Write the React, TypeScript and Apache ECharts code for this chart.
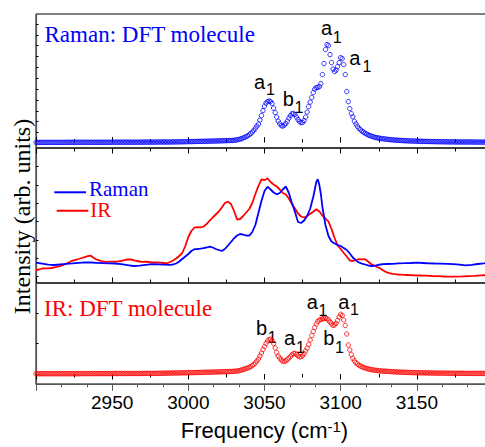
import React, { useEffect, useRef } from "react";
import * as echarts from "echarts";

// Frequency axis (cm-1)
const X_MIN = 2900;
const X_MAX = 3200;
const X_TICK_LABELS = [2950, 3000, 3050, 3100, 3150];

// DFT spectra: one value per cm-1, starting at 2900 cm-1
const DFT_START = 2900;

// Raman: DFT molecule (top panel), 2900..3029
const ramanDftLeftTail = [
  0.2, 0.2, 0.2, 0.2, 0.2, 0.2, 0.2, 0.2, 0.2, 0.2,
  0.2, 0.2, 0.2, 0.2, 0.2, 0.2, 0.2, 0.2, 0.2, 0.2,
  0.3, 0.3, 0.3, 0.3, 0.3, 0.3, 0.3, 0.3, 0.3, 0.3,
  0.3, 0.3, 0.3, 0.3, 0.3, 0.3, 0.3, 0.3, 0.3, 0.3,
  0.3, 0.3, 0.3, 0.3, 0.3, 0.3, 0.3, 0.3, 0.3, 0.3,
  0.4, 0.4, 0.4, 0.4, 0.4, 0.4, 0.4, 0.4, 0.4, 0.4,
  0.4, 0.4, 0.4, 0.4, 0.4, 0.4, 0.4, 0.4, 0.4, 0.4,
  0.5, 0.5, 0.5, 0.5, 0.5, 0.5, 0.5, 0.5, 0.5, 0.5,
  0.6, 0.6, 0.6, 0.6, 0.6, 0.6, 0.6, 0.6, 0.6, 0.6,
  0.7, 0.7, 0.7, 0.8, 0.8, 0.8, 0.8, 0.9, 0.9, 0.9,
  1.0, 1.0, 1.0, 1.1, 1.1, 1.1, 1.2, 1.2, 1.2, 1.3,
  1.3, 1.3, 1.4, 1.4, 1.5, 1.5, 1.5, 1.6, 1.6, 1.7,
  1.7, 1.8, 1.8, 1.9, 1.9, 2.0, 2.0, 2.1, 2.1, 2.2,
];
// 3030..3125
const ramanDftPeaks = [
  2.3, 2.5, 2.8, 3.1, 3.5, 4.0, 4.6, 5.3, 6.0, 6.9,
  7.8, 9.0, 10.5, 12.3, 14.2, 16.5, 18.5, 22.5, 27, 32,
  36.5, 39.5, 41, 41.5, 41, 39, 34.5, 30, 25.5, 21.5,
  19, 17, 16.5, 17.5, 19, 21.5, 24.5, 27, 28.8, 29.2,
  28, 25.5, 23, 21, 20, 20.2, 22, 25.5, 30.5, 36,
  40.5, 45, 50, 53.5, 55, 55.3, 56, 59, 68, 79,
  93, 98, 97, 88, 80, 73.5, 71, 72.5, 76, 80,
  85, 84, 78, 68, 51, 41, 34, 29, 25.8, 21.3,
  18.7, 16.2, 14.3, 12.8, 11.5, 10.4, 9.4, 8.6, 7.8, 7.1,
  6.5, 6.0, 5.5, 5.1, 4.8, 4.5,
];
// 3126..3200
const ramanDftRightTail = [
  4.2, 4.0, 3.8, 3.6, 3.4, 3.2, 3.0, 2.9, 2.8, 2.6,
  2.5, 2.4, 2.3, 2.2, 2.1, 2.0, 1.9, 1.8, 1.8, 1.7,
  1.6, 1.6, 1.5, 1.5, 1.4, 1.4, 1.3, 1.3, 1.2, 1.2,
  1.2, 1.1, 1.1, 1.1, 1.0, 1.0, 1.0, 0.9, 0.9, 0.9,
  0.9, 0.8, 0.8, 0.8, 0.8, 0.7, 0.7, 0.7, 0.7, 0.7,
  0.6, 0.6, 0.6, 0.6, 0.6, 0.6, 0.6, 0.6, 0.6, 0.6,
  0.6, 0.6, 0.5, 0.5, 0.5, 0.5, 0.5, 0.5, 0.5, 0.5,
  0.5, 0.5, 0.4, 0.4, 0.4,
];

// IR: DFT molecule (bottom panel), 2900..3029
const irDftLeftTail = [
  0.3, 0.3, 0.3, 0.3, 0.3, 0.3, 0.3, 0.3, 0.3, 0.3,
  0.3, 0.3, 0.3, 0.3, 0.3, 0.3, 0.3, 0.3, 0.3, 0.3,
  0.3, 0.3, 0.3, 0.3, 0.3, 0.3, 0.3, 0.3, 0.3, 0.3,
  0.4, 0.4, 0.4, 0.4, 0.4, 0.4, 0.4, 0.4, 0.4, 0.4,
  0.4, 0.4, 0.4, 0.4, 0.4, 0.4, 0.4, 0.4, 0.4, 0.4,
  0.5, 0.5, 0.5, 0.5, 0.5, 0.5, 0.5, 0.5, 0.5, 0.5,
  0.5, 0.5, 0.5, 0.5, 0.5, 0.5, 0.5, 0.5, 0.5, 0.5,
  0.6, 0.6, 0.6, 0.6, 0.6, 0.6, 0.6, 0.6, 0.6, 0.6,
  0.7, 0.7, 0.7, 0.8, 0.8, 0.8, 0.8, 0.9, 0.9, 0.9,
  1.0, 1.0, 1.0, 1.1, 1.1, 1.1, 1.2, 1.2, 1.2, 1.3,
  1.3, 1.3, 1.4, 1.4, 1.4, 1.5, 1.5, 1.5, 1.6, 1.6,
  1.7, 1.7, 1.7, 1.8, 1.8, 1.9, 1.9, 2.0, 2.0, 2.1,
  2.1, 2.2, 2.2, 2.3, 2.3, 2.4, 2.4, 2.5, 2.5, 2.6,
];
// 3030..3125
const irDftPeaks = [
  2.7, 2.8, 3.0, 3.3, 3.6, 4.0, 4.5, 5.0, 5.5, 6.0,
  6.7, 7.5, 8.4, 9.5, 11, 13, 15, 18, 21, 24.5,
  27.5, 30.5, 33, 34.5, 34.7, 33.5, 30.5, 26, 21.5, 18,
  16, 14, 12.8, 12.5, 13.3, 14.5, 16, 17.5, 19.2, 20.5,
  20.5, 19.7, 18, 17.2, 17.3, 18.3, 20.5, 23, 26, 29.5,
  34, 38.5, 42.5, 46.5, 50, 52.5, 54, 54.5, 55, 55.5,
  55.7, 55.3, 54, 52, 50, 48.7, 49.2, 50.7, 53.5, 57,
  59.7, 58.5, 54, 48.5, 40, 29, 24, 19.5, 15.7, 13.2,
  11.3, 10, 8.8, 7.9, 7.2, 6.6, 6.0, 5.5, 5.1, 4.7,
  4.4, 4.1, 3.9, 3.7, 3.5, 3.3,
];
// 3126..3200
const irDftRightTail = [
  3.1, 3.0, 2.9, 2.8, 2.7, 2.6, 2.5, 2.4, 2.3, 2.2,
  2.1, 2.0, 1.9, 1.9, 1.8, 1.7, 1.7, 1.6, 1.6, 1.5,
  1.5, 1.4, 1.4, 1.3, 1.3, 1.3, 1.2, 1.2, 1.2, 1.1,
  1.1, 1.1, 1.0, 1.0, 1.0, 1.0, 0.9, 0.9, 0.9, 0.9,
  0.9, 0.8, 0.8, 0.8, 0.8, 0.8, 0.7, 0.7, 0.7, 0.7,
  0.7, 0.7, 0.7, 0.7, 0.7, 0.6, 0.6, 0.6, 0.6, 0.6,
  0.6, 0.6, 0.6, 0.6, 0.6, 0.6, 0.6, 0.6, 0.6, 0.6,
  0.5, 0.5, 0.5, 0.5, 0.5,
];

// Experimental spectra (middle panel): [wavenumber, intensity]
const ramanExp = [
  [2900, 20.3], [2904, 19.3], [2908, 18.3], [2912, 18.0], [2916, 18.6], [2920, 19.2],
  [2924, 19.6], [2928, 20.2], [2932, 20.7], [2936, 20.5], [2940, 20.2], [2944, 19.9],
  [2948, 19.7], [2952, 19.5], [2956, 18.8], [2960, 17.8], [2964, 17.0], [2968, 17.4],
  [2972, 18.2], [2976, 18.8], [2980, 18.7], [2984, 18.4], [2988, 18.2], [2990, 18.5],
  [2992, 19.5], [2994, 21.5], [2996, 24], [2998, 26.5], [3000, 29], [3002, 32],
  [3004, 33.8], [3006, 34], [3008, 34.3], [3010, 34.8], [3012, 35.5], [3014, 36.3],
  [3016, 35.5], [3018, 34], [3020, 33], [3022, 32], [3024, 34], [3026, 37.5],
  [3028, 41], [3030, 44.7], [3032, 47.5], [3034, 49], [3036, 48.3], [3038, 47.5],
  [3040, 47.3], [3042, 51], [3044, 58], [3046, 70], [3048, 82], [3050, 92],
  [3052, 96.3], [3054, 93.5], [3056, 90.5], [3058, 88.7], [3060, 90], [3062, 93.5],
  [3064, 96.5], [3066, 90], [3068, 80], [3070, 71], [3072, 61], [3074, 60],
  [3076, 62.5], [3078, 67], [3080, 74.5], [3082, 86], [3084, 101], [3085, 103.7],
  [3086, 98], [3087, 89], [3088, 76], [3090, 58], [3092, 47], [3094, 41.5],
  [3096, 39.5], [3098, 38], [3100, 37], [3102, 35], [3104, 33], [3106, 29.5],
  [3108, 25.5], [3110, 22.5], [3112, 20.5], [3114, 19.3], [3116, 18.5], [3118, 17.6],
  [3120, 17.0], [3122, 17.1], [3124, 17.8], [3126, 18.5], [3128, 18.8], [3130, 19.0],
  [3134, 19.2], [3138, 19.6], [3142, 19.8], [3146, 20.0], [3150, 20.3], [3154, 20.0],
  [3158, 19.7], [3162, 19.5], [3166, 19.4], [3170, 19.1], [3174, 18.8], [3178, 18.4],
  [3182, 17.7], [3186, 18.2], [3190, 19.0], [3194, 19.7], [3198, 20.5], [3200, 21.5],
];
const irExp = [
  [2900, 13], [2902, 13.5], [2904, 14.5], [2906, 14.7], [2908, 14.7], [2910, 15.0],
  [2912, 15.5], [2914, 16.3], [2916, 17], [2918, 18.2], [2920, 19.5], [2922, 21],
  [2924, 22.3], [2926, 23.2], [2928, 24], [2930, 25], [2932, 25.8], [2934, 26.8],
  [2936, 27.3], [2938, 25], [2940, 23.3], [2942, 22.3], [2944, 21.5], [2946, 21.2],
  [2948, 21.3], [2950, 21.3], [2952, 21.3], [2954, 21.6], [2956, 22], [2958, 22.8],
  [2960, 23.5], [2962, 23.5], [2964, 22.8], [2966, 22], [2968, 21.5], [2970, 21.2],
  [2972, 21.3], [2974, 21], [2976, 20.7], [2978, 20.5], [2980, 20.5], [2982, 20.3],
  [2984, 20], [2986, 19.7], [2988, 21], [2990, 22.5], [2992, 24.5], [2994, 27],
  [2996, 30], [2998, 37], [3000, 46], [3002, 52], [3004, 55.3], [3006, 55.8],
  [3008, 55.7], [3010, 56.5], [3012, 59], [3014, 62.3], [3016, 65.5], [3018, 68.5],
  [3020, 71.5], [3022, 75.5], [3024, 80], [3026, 81.3], [3028, 79], [3030, 72],
  [3032, 63.5], [3034, 64], [3036, 67], [3038, 70.5], [3040, 74], [3042, 80],
  [3044, 89], [3046, 97], [3048, 103.7], [3050, 103], [3051, 103.5], [3052, 104.7],
  [3054, 101], [3056, 98.5], [3058, 96.5], [3060, 93.5], [3062, 90], [3064, 88.5],
  [3066, 84.5], [3068, 79], [3070, 74.5], [3072, 69.5], [3074, 66.5], [3076, 65.5],
  [3078, 67], [3080, 69.3], [3082, 71.3], [3084, 73.7], [3086, 71.5], [3088, 67.5],
  [3090, 64.5], [3092, 61.3], [3094, 54], [3096, 45], [3098, 37.5], [3100, 34],
  [3102, 30], [3104, 26.5], [3106, 22.5], [3108, 22], [3110, 23], [3112, 23.8],
  [3114, 23.7], [3116, 23.8], [3118, 21.5], [3120, 19], [3122, 17.5], [3124, 16],
  [3126, 14.5], [3128, 12.5], [3130, 10.8], [3132, 9.8], [3134, 9.2], [3136, 8.8],
  [3138, 8.5], [3140, 8.3], [3144, 8.0], [3148, 7.7], [3152, 7.5], [3156, 7.3],
  [3160, 7.0], [3164, 6.8], [3168, 6.5], [3172, 6.3], [3176, 6.4], [3180, 6.6],
  [3184, 6.9], [3188, 7.2], [3192, 7.6], [3196, 7.8], [3200, 8.0],
];

// Y tick positions (no labels) of each panel
const topYTicks = [9.9, 20.9, 31.6, 42.6, 53.6, 64.3, 75.3, 85.9, 96.9, 107.6, 118.6];
const midYTicks = [6.3, 24.7, 43, 61.3, 79.7, 98, 116.3];
const botYTicks = [30.7, 60.7];

const SANS = "Liberation Sans";
const SERIF = "Liberation Serif";

function toPairs(values: number[]) {
  return values.map((v, i) => [DFT_START + i, v]);
}

export default function App() {
  const ref = useRef<HTMLDivElement>(null);

  useEffect(() => {
    const chart = echarts.init(ref.current!, null, { renderer: "svg" });

    const ramanDft = toPairs([...ramanDftLeftTail, ...ramanDftPeaks, ...ramanDftRightTail]);
    const irDft = toPairs([...irDftLeftTail, ...irDftPeaks, ...irDftRightTail]);

    const L = 36;
    const W = 457;
    const gridBase = { left: L, width: W, show: true, borderColor: "#000", borderWidth: 1, backgroundColor: "transparent" };

    const innerX = (gridIndex: number, position: string) => ({
      type: "value",
      gridIndex,
      position,
      min: X_MIN,
      max: X_MAX,
      interval: 50,
      axisLine: { show: false },
      axisLabel: { show: false },
      splitLine: { show: false },
      axisTick: { show: true, inside: true, length: 5.5, lineStyle: { color: "#000", width: 1 } },
      minorTick: { show: true, splitNumber: 2, length: 3.5, lineStyle: { color: "#000", width: 1 } },
    });

    const yAx = (gridIndex: number, min: number, max: number, ticks: number[]) => ({
      type: "value",
      gridIndex,
      min,
      max,
      axisLine: { show: true, lineStyle: { color: "#555", width: 1.2 } },
      axisLabel: { show: false },
      splitLine: { show: false },
      axisTick: { show: true, inside: true, length: 2.5, customValues: ticks, lineStyle: { color: "#000" } },
    });

    // Text placed by its centre line (y) and left edge (x)
    const txt = (text: string, x: number, y: number, size: number, family: string, fill: string, rotation = 0, align = "left") => ({
      type: "text",
      x,
      y,
      rotation,
      silent: true,
      style: { text, fontSize: size, fontFamily: family, fill, align, verticalAlign: "middle" },
    });

    const label = (ch: string, x: number, yb: number, subX: number, subYb: number) => [
      txt(ch, x, yb - 6.8, 20, SANS, "#000"),
      txt("1", subX, subYb - 5.5, 16, SANS, "#000"),
    ];

    const option: any = {
      animation: false,
      backgroundColor: "#fff",
      grid: [
        { ...gridBase, top: 14, height: 134 },
        { ...gridBase, top: 148, height: 135 },
        { ...gridBase, top: 283, height: 101 },
      ],
      xAxis: [
        innerX(0, "bottom"),
        innerX(1, "bottom"),
        innerX(1, "top"),
        innerX(2, "top"),
        {
          type: "value",
          gridIndex: 2,
          position: "bottom",
          min: X_MIN,
          max: X_MAX,
          interval: 50,
          axisLine: { show: true, lineStyle: { color: "#555", width: 1.2 } },
          splitLine: { show: false },
          axisTick: { show: true, inside: false, length: 6.7, lineStyle: { color: "#555", width: 1 } },
          minorTick: { show: true, splitNumber: 3, length: 3.3, lineStyle: { color: "#555", width: 1 } },
          axisLabel: {
            show: true,
            margin: 9,
            fontSize: 19,
            fontFamily: SANS,
            color: "#000",
            showMinLabel: false,
            showMaxLabel: false,
            formatter: (v: number) => (X_TICK_LABELS.includes(v) ? String(v) : ""),
          },
        },
      ],
      yAxis: [
        yAx(0, -5.4, 128.6, topYTicks),
        yAx(1, 0, 135, midYTicks),
        yAx(2, -10, 91, botYTicks),
      ],
      series: [
        {
          name: "Raman: DFT molecule",
          type: "scatter",
          xAxisIndex: 0,
          yAxisIndex: 0,
          symbol: "circle",
          symbolSize: 4.4,
          silent: true,
          itemStyle: { color: "rgba(0,0,0,0)", borderColor: "#0000ff", borderWidth: 1 },
          data: ramanDft,
        },
        {
          name: "IR",
          type: "line",
          xAxisIndex: 1,
          yAxisIndex: 1,
          showSymbol: false,
          silent: true,
          lineStyle: { color: "#ff0000", width: 1.8 },
          itemStyle: { color: "#ff0000" },
          data: irExp,
        },
        {
          name: "Raman",
          type: "line",
          xAxisIndex: 1,
          yAxisIndex: 1,
          showSymbol: false,
          silent: true,
          lineStyle: { color: "#0000ff", width: 1.8 },
          itemStyle: { color: "#0000ff" },
          data: ramanExp,
        },
        {
          name: "IR: DFT molecule",
          type: "scatter",
          xAxisIndex: 4,
          yAxisIndex: 2,
          symbol: "circle",
          symbolSize: 4.4,
          silent: true,
          itemStyle: { color: "rgba(0,0,0,0)", borderColor: "#ff0000", borderWidth: 1 },
          data: irDft,
        },
      ],
      graphic: [
        txt("Raman: DFT molecule", 44.5, 34.9, 23, SERIF, "#0000ff"),
        txt("IR: DFT molecule", 44, 308.9, 23, SERIF, "#ff0000"),
        // legend of the middle panel
        { type: "line", silent: true, shape: { x1: 54.3, y1: 192.3, x2: 86, y2: 192.3 }, style: { stroke: "#0000ff", lineWidth: 2 } },
        { type: "line", silent: true, shape: { x1: 56.7, y1: 210.7, x2: 88.3, y2: 210.7 }, style: { stroke: "#ff0000", lineWidth: 2 } },
        txt("Raman", 89, 188.5, 21, SERIF, "#0000ff"),
        txt("IR", 90.3, 210.3, 21, SERIF, "#ff0000"),
        // y axis title
        txt("Intensity (arb. units)", 22, 216.5, 24, SERIF, "#000", Math.PI / 2, "center"),
        // x axis title
        {
          type: "text",
          x: 264.5,
          y: 430.7,
          silent: true,
          style: {
            text: "{n|Frequency (cm}{s|-1}{n|)}",
            align: "center",
            verticalAlign: "middle",
            fill: "#000",
            fontSize: 22,
            fontFamily: SANS,
            rich: {
              n: { fontSize: 22, fontFamily: SANS, fill: "#000", verticalAlign: "middle" },
              s: { fontSize: 15, fontFamily: SANS, fill: "#000", verticalAlign: "middle", padding: [0, 0, 8, 0] },
            },
          },
        },
        // peak assignments, top panel
        ...label("a", 321, 35, 332.7, 42.7),
        ...label("a", 349.3, 65, 362.4, 71.7),
        ...label("a", 254, 88.3, 266, 95),
        ...label("b", 282.7, 106, 294.4, 113.3),
        // peak assignments, bottom panel
        ...label("b", 256, 335, 267.7, 343.3),
        ...label("a", 284, 345, 296, 353.3),
        ...label("a", 306.7, 308.3, 318.4, 316),
        ...label("a", 338.3, 308.3, 350, 315),
        ...label("b", 323.3, 345, 335, 353.3),
      ],
    };

    chart.setOption(option);
    return () => chart.dispose();
  }, []);

  return (
    <div style={{ position: "fixed", left: 0, top: 0, width: 485, height: 447, overflow: "hidden", background: "#fff" }}>
      <div ref={ref} style={{ width: 500, height: 447 }} />
    </div>
  );
}
